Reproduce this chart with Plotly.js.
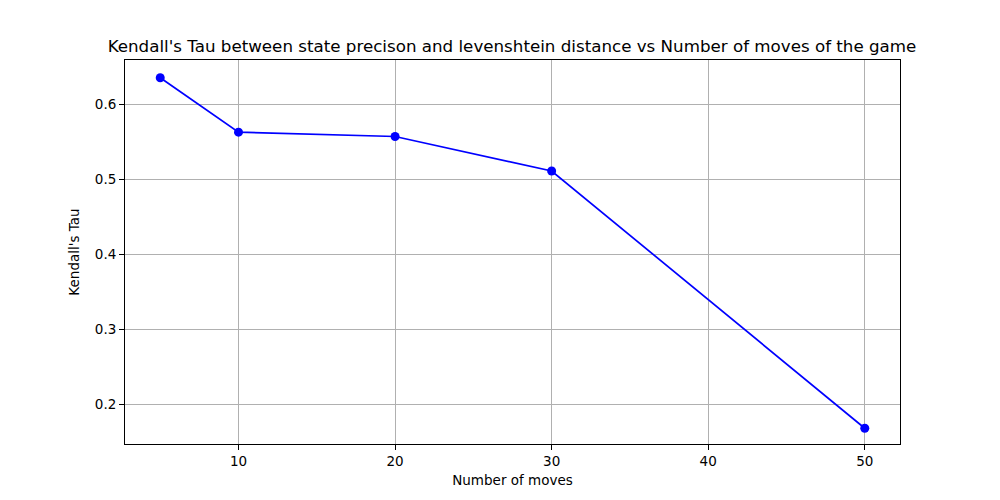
<!DOCTYPE html>
<html>
<head>
<meta charset="utf-8">
<script src="https://cdn.plot.ly/plotly-3.0.1.min.js"></script>
<style>html,body{margin:0;padding:0;background:#fff;}#chart{width:1000px;height:500px;}</style>
</head>
<body>
<div id="chart"></div>
<script>
const moves = [5, 10, 20, 30, 50];
const tau = [0.635, 0.5625, 0.5567, 0.5107, 0.1677];
const xTicks = [10, 20, 30, 40, 50];
const yTicks = [0.2, 0.3, 0.4, 0.5, 0.6];

const font = {family: 'DejaVu Sans, sans-serif', color: '#000'};
const axisCommon = {
  showline: true, mirror: true, linecolor: '#000', linewidth: 1,
  ticks: 'outside', ticklen: 5, tickwidth: 1, tickcolor: '#000',
  showgrid: true, gridcolor: '#b0b0b0', gridwidth: 1, zeroline: false,
  tickfont: {family: font.family, size: 13.5, color: '#000'}
};

Plotly.newPlot('chart', [{
  x: moves, y: tau, type: 'scatter', mode: 'lines+markers',
  line: {color: '#0000ff', width: 1.7},
  marker: {color: '#0000ff', size: 9}
}], {
  width: 1000, height: 500,
  margin: {l: 125, r: 100, t: 60, b: 56},
  paper_bgcolor: '#fff', plot_bgcolor: '#fff',
  showlegend: false,
  title: {text: "Kendall's Tau between state precison and levenshtein distance vs Number of moves of the game",
    font: {family: font.family, size: 16.7, color: '#000'},
    x: 0.512, xanchor: 'center', y: 0.897, yanchor: 'bottom'},
  xaxis: Object.assign({}, axisCommon, {
    range: [2.75, 52.25], tickvals: xTicks, ticktext: xTicks.map(String),
    title: {text: 'Number of moves', font: {family: font.family, size: 13.5, color: '#000'}, standoff: 7}
  }),
  yaxis: Object.assign({}, axisCommon, {
    range: [0.1467, 0.6587], tickvals: yTicks, ticktext: yTicks.map(v => v.toFixed(1)),
    title: {text: "Kendall's Tau", font: {family: font.family, size: 13.5, color: '#000'}, standoff: 12}
  })
}, {displayModeBar: false, staticPlot: true});
</script>
</body>
</html>
